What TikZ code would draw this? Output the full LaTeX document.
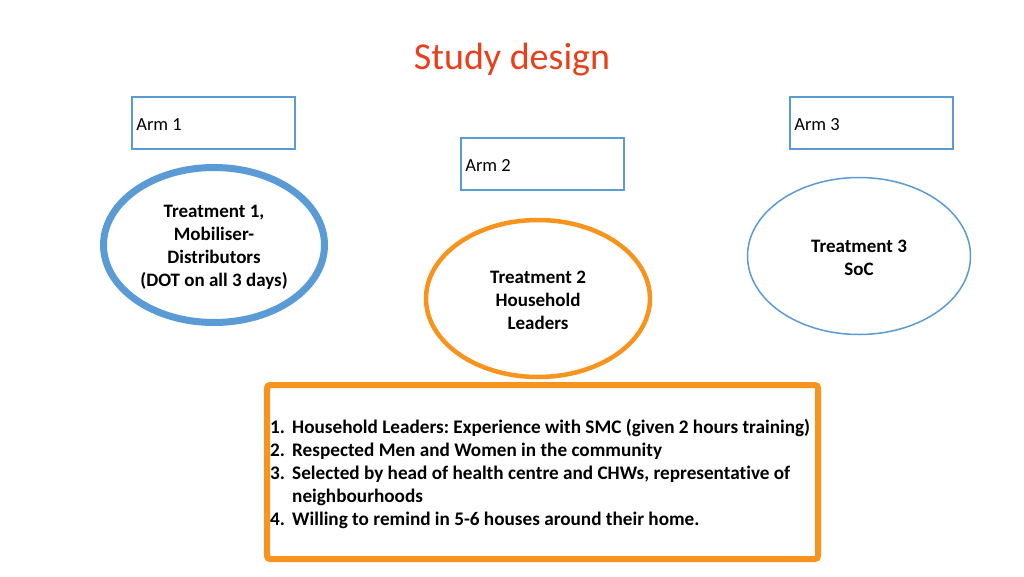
\documentclass[tikz,border=0pt]{standalone}
\usepackage{fontspec}
\setmainfont{Carlito}[Ligatures=NoCommon]
\usetikzlibrary{shapes.geometric}
\definecolor{armblue}{RGB}{91,155,213}
\definecolor{hlorange}{RGB}{247,148,29}
\definecolor{titlered}{RGB}{232,64,28}
\frenchspacing
\tikzset{
  armbox/.style={draw=armblue, line width=1.8pt, minimum width=163pt, minimum height=52pt, inner sep=0pt},
  armtext/.style={anchor=west, inner sep=0pt, font=\fontsize{18.5}{21}\selectfont},
  treat/.style={ellipse, inner sep=0pt, minimum width=#1},
  treattext/.style={inner sep=0pt, align=center, font=\bfseries\fontsize{19}{23}\selectfont},
}
\begin{document}
\begin{tikzpicture}[x=1pt,y=-1pt]
\path[fill=white] (0,0) rectangle (1024,576);
\useasboundingbox (0,0) rectangle (1024,576);
\node[text=titlered, font=\fontsize{38}{44}\selectfont] (title) at (512,60) {Study design};
\node[armbox] (arm1) at (213.5,123) {};
\node[armbox] (arm2) at (542.5,164) {};
\node[armbox] (arm3) at (871.5,123) {};
\node[armtext] (arm1t) at ([xshift=5pt,yshift=-1.5pt]arm1.west) {Arm 1};
\node[armtext] (arm2t) at ([xshift=5pt,yshift=-1.5pt]arm2.west) {Arm 2};
\node[armtext] (arm3t) at ([xshift=5pt,yshift=-1.5pt]arm3.west) {Arm 3};
\node[treat=221pt, draw=armblue, line width=7pt, minimum height=155pt] (t1) at (214,245) {};
\node[treat=224pt, draw=hlorange, line width=4.5pt, minimum height=157pt] (t2) at (538,298.5) {};
\node[treat=223pt, draw=armblue, line width=1.5pt, minimum height=157pt] (t3) at (859,256) {};
\node[treattext] (t1t) at ([yshift=-2.5pt]t1.center) {Treatment 1,\\Mobiliser-\\Distributors\\(DOT on all 3 days)};
\node[treattext] (t2t) at ([yshift=-2pt]t2.center) {Treatment 2\\Household\\Leaders};
\node[treattext] (t3t) at ([yshift=-1.5pt]t3.center) {Treatment 3\\SoC};
\node[draw=hlorange, line width=6pt, rounded corners=3pt, minimum width=551pt, minimum height=174pt, inner sep=0pt] (box) at (542.5,472) {};
\node[anchor=west, inner sep=0pt, align=left, font=\bfseries\fontsize{19.2}{23}\selectfont] (list) at ([xshift=6pt,yshift=-2pt]box.west) {%
\makebox[22pt][l]{1.}Household Leaders: Experience with SMC (given 2 hours training)\\
\makebox[22pt][l]{2.}Respected Men and Women in the community\\
\makebox[22pt][l]{3.}Selected by head of health centre and CHWs, representative of\\
\makebox[22pt][l]{}neighbourhoods\\
\makebox[22pt][l]{4.}Willing to remind in 5-6 houses around their home.};
\end{tikzpicture}
\end{document}
